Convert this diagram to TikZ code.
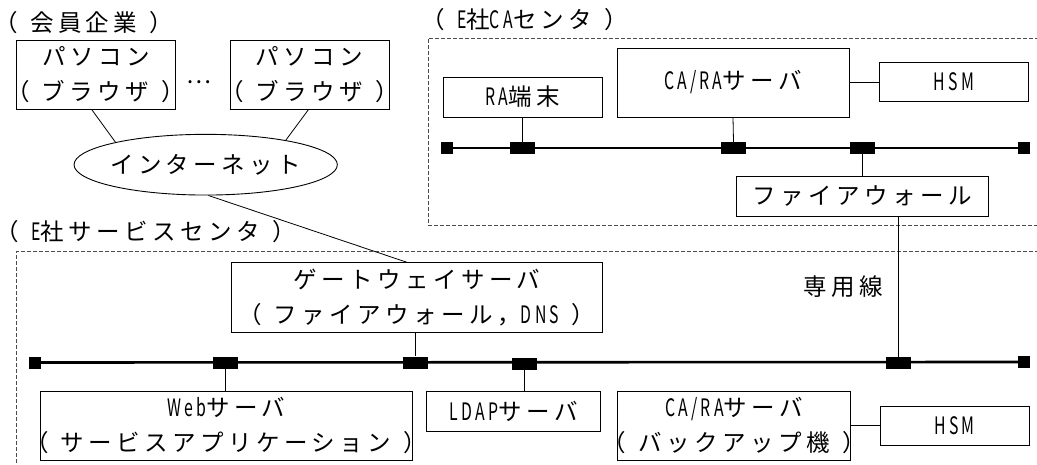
\documentclass[tikz,border=0pt]{standalone}
\usepackage{fontspec}
\setmainfont{Noto Sans CJK JP}[LetterSpace=19]
\usetikzlibrary{shapes.geometric,calc}
\newcommand\lat[1]{{\fontsize{24pt}{35pt}\selectfont\addfontfeature{FakeStretch=0.66,LetterSpace=14}#1}}
\newcommand\myslash{\kern3pt/\kern3pt}
\newcommand\lp{{\addfontfeature{RawFeature=+halt}（}\kern12pt}
\newcommand\rp{\kern12.5pt{\addfontfeature{RawFeature=+halt}）}}
\newcommand\zc[1]{\makebox[0pt]{#1}}
\newcommand\jpf{\fontsize{23.5pt}{35pt}\selectfont}
\begin{document}
\begin{tikzpicture}[x=1pt,y=-1pt,
  box/.style={draw,line width=0.9pt,inner sep=0pt,align=center,font=\jpf},
  txt/.style={inner sep=0pt,align=center,font=\jpf},
  conn/.style={line width=0.8pt},
  bus/.style={line width=2.6pt},
  tapbox/.style={fill=black,inner sep=0pt,minimum width=25pt,minimum height=12pt},
  endsq/.style={fill=black,inner sep=0pt,minimum width=12pt,minimum height=12pt},
  region/.style={draw=black!70,line width=0.8pt,dash pattern=on 4pt off 2pt}]
\useasboundingbox (0,0) rectangle (1037,465);

% regions
\draw[region] (1045,38) -- (428,38) -- (428,225.5) -- (1045,225.5);
\draw[region] (1045,251.7) -- (16.7,251.7) -- (16.7,475);

% labels
\node[txt] (lblmember) at (84,23) {\lp 会員企業\rp};
\node[txt] (lblca) at (525,20) {\lp\lat{E}社\lat{CA}センタ\rp};
\node[txt] (lblsvc) at (146,231.5) {\lp\lat{E}社サービスセンタ\rp};
\node[txt] (lbldedi) at (843,287) {専用線};

% member side
\node[box,minimum width=158.3pt,minimum height=68.6pt] (pc1) at (95.85,75) {\zc{パソコン}\\\zc{\lp ブラウザ\rp}};
\node[box,minimum width=159.3pt,minimum height=68.6pt] (pc2) at (309.65,75) {\zc{パソコン}\\\zc{\lp ブラウザ\rp}};
\node[txt] (dots) at (199,82) {…};
\node[draw,ellipse,line width=0.9pt,inner sep=0pt,minimum width=263.3pt,minimum height=60.7pt,font=\jpf] (inet) at (205.7,164.7) {\zc{インターネット}};

% CA center
\node[box,minimum width=159.3pt,minimum height=40pt] (ra) at (522.7,97) {\zc{\lat{RA}端末}};
\node[box,minimum width=232pt,minimum height=69pt] (cara) at (733,82.5) {\zc{\lat{CA\myslash RA}サーバ}};
\node[box,minimum width=149pt,minimum height=39pt] (hsmA) at (953.8,81.8) {\zc{\lat{HSM}}};
\node[box,minimum width=252.7pt,minimum height=39.7pt] (fw) at (862.3,196.2) {\zc{ファイアウォール}};

\node[endsq] (caL) at (447,148) {};
\node[endsq] (caR) at (1023.5,148) {};
\draw[bus] (caL.center) -- (caR.center);
\node[tapbox] (tRA) at (522.7,148) {};
\node[tapbox] (tCA) at (733.5,148) {};
\node[tapbox] (tFW) at (862.5,148) {};

% service center
\node[box,minimum width=371.7pt,minimum height=70pt] (gw) at (416.8,297.7) {\zc{ゲートウェイサーバ}\\\zc{\lp ファイアウォール，\lat{DNS}\rp}};
\node[box,minimum width=372.3pt,minimum height=69.7pt] (web) at (226.2,425.8) {\zc{\lat{Web}サーバ}\\\zc{\lp サービスアプリケーション\rp}};
\node[box,minimum width=174pt,minimum height=40pt] (ldap) at (513.7,411) {\zc{\lat{LDAP}サーバ}};
\node[box,minimum width=233pt,minimum height=69.7pt] (bk) at (734.2,425.8) {\zc{\lat{CA\myslash RA}サーバ}\\\zc{\lp バックアップ機\rp}};
\node[box,minimum width=149pt,minimum height=39.7pt] (hsmB) at (954.5,425.8) {\zc{\lat{HSM}}};

\node[endsq] (svL) at (35,362.5) {};
\node[endsq] (svR) at (1024,362) {};
\draw[bus] (svL.center) -- (svR.center);
\node[tapbox] (tWeb) at (225.5,362.5) {};
\node[tapbox] (tGW) at (415,362.5) {};
\node[tapbox] (tLD) at (524,364) {};
\node[tapbox] (tD) at (898,363) {};

% connectors
\draw[conn] ($(pc1.south)+(-4,0)$) -- (inet.166);
\draw[conn] ($(pc2.south)+(-1.3,0)$) -- (inet.17);
\draw[conn] (inet.275) -- ($(gw.north)+(-10,0)$);
\draw[conn] (ra.south) -- (tRA.north);
\draw[conn] (cara.south) -- (tCA.north);
\draw[conn] (cara.east) -- (cara.east -| hsmA.west);
\draw[conn] (tFW.south) -- (fw.north -| tFW);
\draw[conn] (fw.south -| tD) -- (tD.north);
\draw[conn] (gw.south -| tGW) -- (tGW.north);
\draw[conn] (tWeb.south) -- (web.north -| tWeb);
\draw[conn] (tLD.south) -- (ldap.north -| tLD);
\draw[conn] (bk.east) -- (hsmB.west);
\end{tikzpicture}
\end{document}
